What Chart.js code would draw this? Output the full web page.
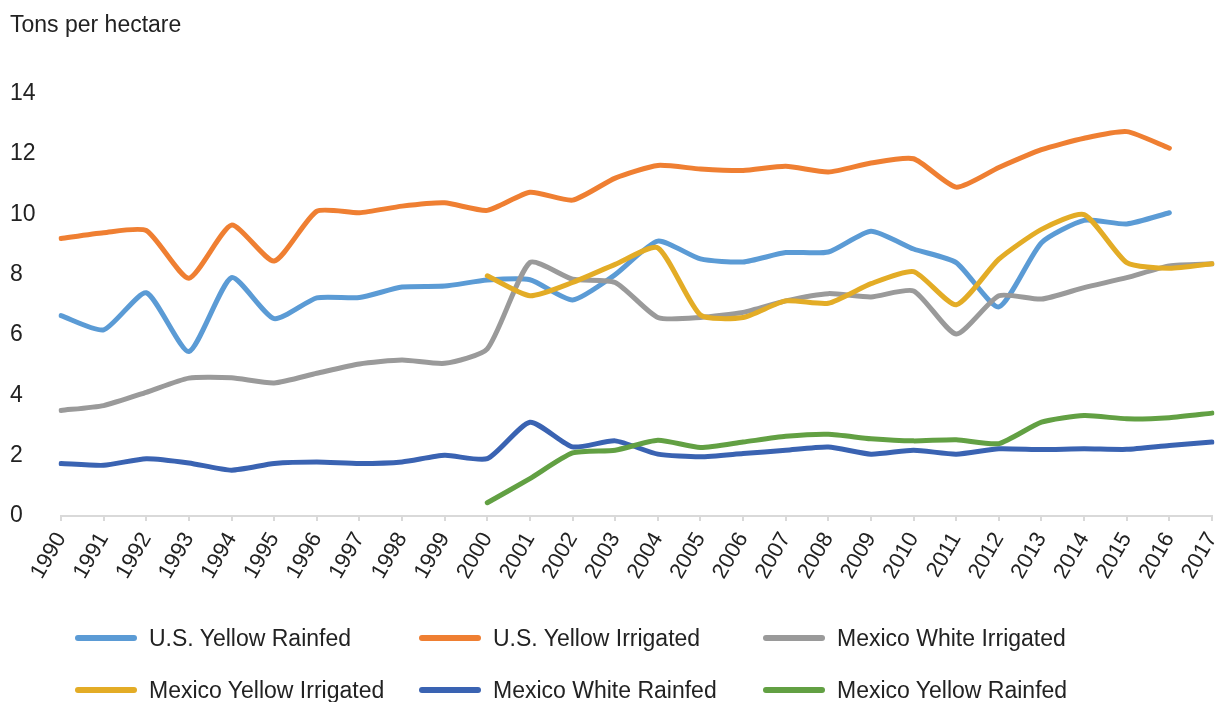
<!DOCTYPE html>
<html>
<head>
<meta charset="utf-8">
<script src="https://cdn.jsdelivr.net/npm/chart.js@4"></script>
<style>
  body { margin: 0; background: #fff; }
  #wrap { position: relative; width: 1222px; height: 702px; overflow: hidden; }
  #legend { position: absolute; left: 0; top: 0; width: 1222px; height: 702px; pointer-events: none;
            font-family: "Liberation Sans", Arial, sans-serif; font-size: 23px; color: #222; }
  .item { position: absolute; display: flex; align-items: center; white-space: nowrap; }
  .swatch { width: 62px; height: 6px; border-radius: 3px; margin-right: 12px; }
</style>
</head>
<body>
<div id="wrap">
  <canvas id="chart" width="1222" height="702"></canvas>
  <div id="legend"></div>
</div>
<script>
const years = ['1990','1991','1992','1993','1994','1995','1996','1997','1998','1999',
  '2000','2001','2002','2003','2004','2005','2006','2007','2008','2009',
  '2010','2011','2012','2013','2014','2015','2016','2017'];

const usYellowRainfed = [6.64, 6.17, 7.40, 5.45, 7.90, 6.54, 7.23, 7.24, 7.59, 7.62,
  7.82, 7.83, 7.16, 8.00, 9.11, 8.52, 8.42, 8.73, 8.75, 9.44,
  8.85, 8.40, 6.93, 9.06, 9.80, 9.68, 10.05, null];
const usYellowIrrigated = [9.20, 9.39, 9.46, 7.88, 9.64, 8.45, 10.10, 10.05, 10.27, 10.38,
  10.13, 10.73, 10.47, 11.20, 11.62, 11.50, 11.45, 11.59, 11.40, 11.70,
  11.84, 10.90, 11.55, 12.14, 12.52, 12.74, 12.19, null];
const mexWhiteIrrigated = [3.50, 3.66, 4.10, 4.57, 4.58, 4.41, 4.73, 5.04, 5.17, 5.06,
  5.54, 8.40, 7.85, 7.74, 6.58, 6.58, 6.75, 7.13, 7.37, 7.26,
  7.46, 6.03, 7.30, 7.19, 7.57, 7.90, 8.29, 8.36];
const mexYellowIrrigated = [null, null, null, null, null, null, null, null, null, null,
  7.96, 7.30, 7.74, 8.34, 8.89, 6.66, 6.58, 7.13, 7.05, 7.70,
  8.10, 7.00, 8.51, 9.50, 9.99, 8.40, 8.21, 8.36];
const mexWhiteRainfed = [1.74, 1.68, 1.90, 1.76, 1.52, 1.74, 1.79, 1.74, 1.79, 2.01,
  1.90, 3.11, 2.29, 2.49, 2.05, 1.96, 2.07, 2.18, 2.29, 2.05,
  2.18, 2.05, 2.23, 2.20, 2.23, 2.21, 2.34, 2.45];
const mexYellowRainfed = [null, null, null, null, null, null, null, null, null, null,
  0.44, 1.24, 2.09, 2.18, 2.51, 2.27, 2.45, 2.64, 2.71, 2.56,
  2.49, 2.53, 2.40, 3.11, 3.33, 3.22, 3.26, 3.41];

const seriesNames = ['U.S. Yellow Rainfed', 'U.S. Yellow Irrigated', 'Mexico White Irrigated',
  'Mexico Yellow Irrigated', 'Mexico White Rainfed', 'Mexico Yellow Rainfed'];
const seriesColors = ['#5B9BD5', '#EF7F32', '#9A9A9A', '#E3AC26', '#3A63B2', '#62A043'];
const seriesData = [usYellowRainfed, usYellowIrrigated, mexWhiteIrrigated,
  mexYellowIrrigated, mexWhiteRainfed, mexYellowRainfed];

const FONT = '"Liberation Sans", Arial, sans-serif';

const datasets = seriesData.map((d, i) => ({
    label: seriesNames[i],
    data: d,
    borderColor: seriesColors[i],
    backgroundColor: seriesColors[i],
    borderWidth: 5,
    pointRadius: 0,
    tension: 0.2,
    fill: false,
    spanGaps: false,
    borderCapStyle: 'round',
    borderJoinStyle: 'round',
    // later series on top, like the original
    order: seriesData.length - i
}));

new Chart(document.getElementById('chart'), {
    type: 'line',
    data: { labels: years, datasets: datasets },
    options: {
        responsive: false,
        animation: false,
        layout: { padding: { left: 10, right: 10, top: 0, bottom: 102 } },
        plugins: {
            legend: { display: false },
            tooltip: { enabled: false },
            title: {
                display: true,
                text: 'Tons per hectare',
                align: 'start',
                color: '#222',
                font: { family: FONT, size: 23, weight: 'normal' },
                padding: { top: 12, bottom: 54 }
            }
        },
        scales: {
            x: {
                offset: false,
                grid: { display: true, drawOnChartArea: false, drawTicks: true, tickLength: 5, color: '#d9d9d9', lineWidth: 2 },
                border: { display: true, color: '#d9d9d9', width: 2 },
                ticks: {
                    autoSkip: false,
                    maxRotation: 60,
                    minRotation: 60,
                    color: '#222',
                    padding: 7,
                    font: { family: FONT, size: 22 }
                },
                afterFit: function (scale) {
                    scale.height = 84;
                    scale.paddingLeft = 0;
                    scale.paddingRight = 0;
                }
            },
            y: {
                min: 0,
                max: 14,
                grid: { display: false },
                border: { display: false },
                ticks: {
                    stepSize: 2,
                    color: '#222',
                    crossAlign: 'far',
                    font: { family: FONT, size: 23 }
                },
                afterFit: function (scale) { scale.width = 51; }
            }
        }
    }
});

// legend in two rows of three, fixed columns as in the original
const legend = document.getElementById('legend');
const colX = [75, 419, 763];
const rowY = [638, 690];
seriesNames.forEach((name, i) => {
    const item = document.createElement('div');
    item.className = 'item';
    item.style.left = colX[i % 3] + 'px';
    item.style.top = (rowY[Math.floor(i / 3)] - 14) + 'px';
    item.style.height = '28px';
    const sw = document.createElement('span');
    sw.className = 'swatch';
    sw.style.background = seriesColors[i];
    const txt = document.createElement('span');
    txt.textContent = name;
    item.appendChild(sw);
    item.appendChild(txt);
    legend.appendChild(item);
});
</script>
</body>
</html>
